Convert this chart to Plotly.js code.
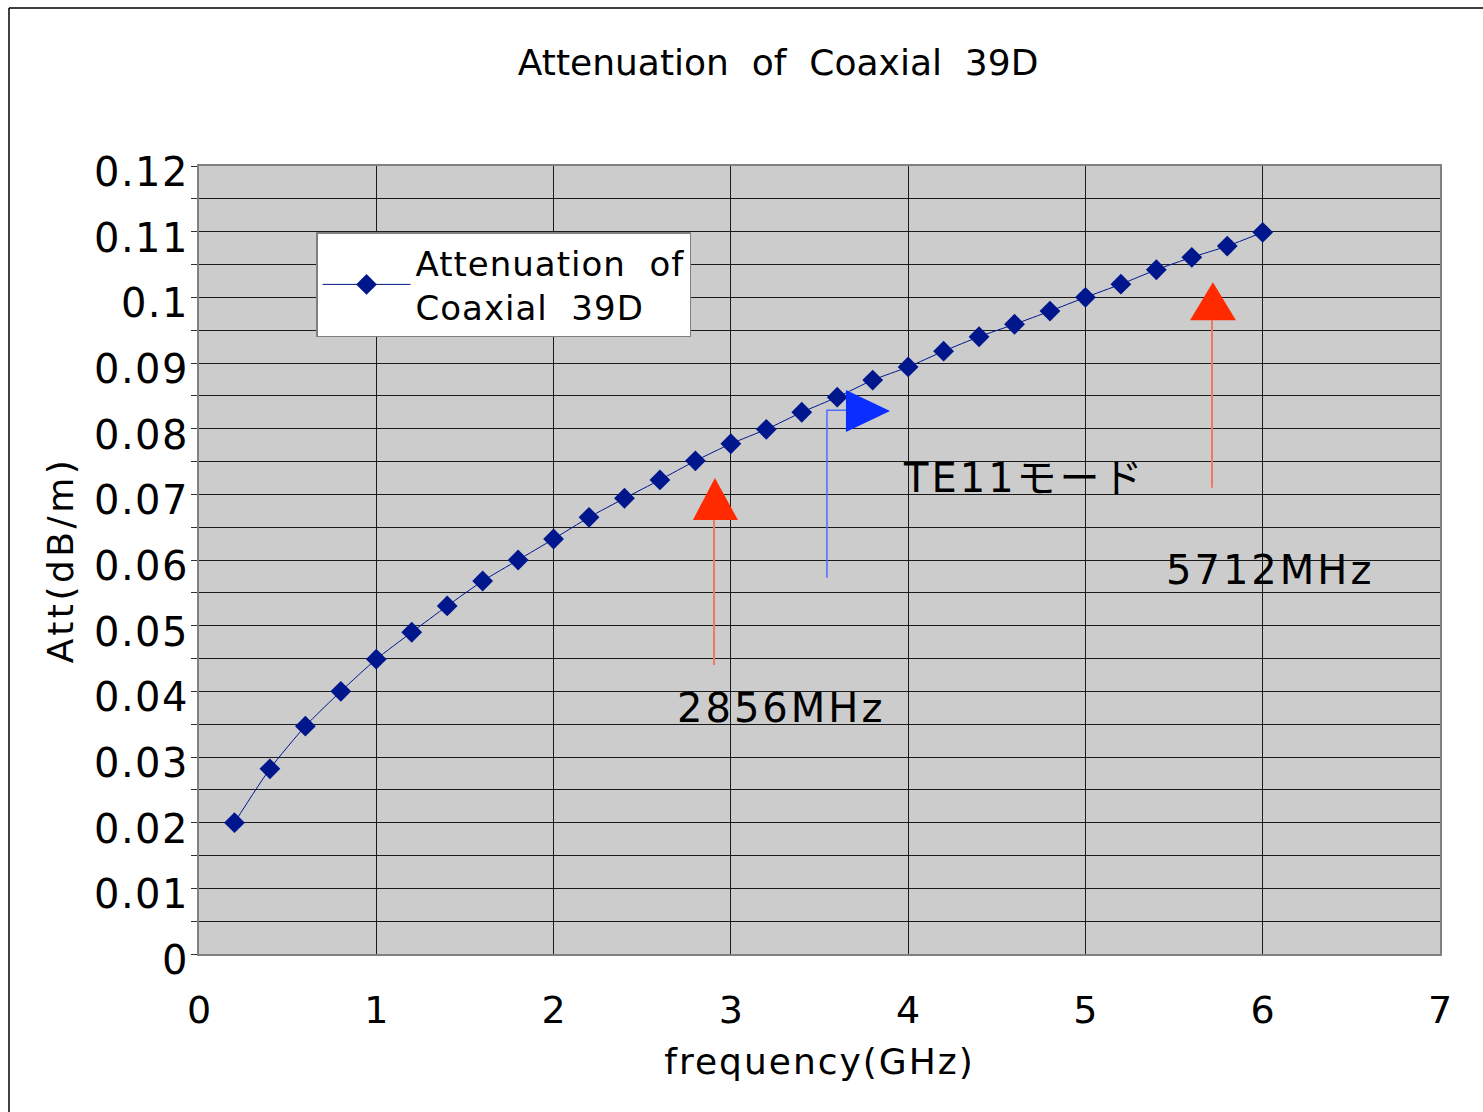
<!DOCTYPE html>
<html>
<head>
<meta charset="utf-8">
<script src="https://cdn.plot.ly/plotly-3.0.1.min.js"></script>
<style>
html,body{margin:0;padding:0;background:#fff}
#chart{width:1483px;height:1112px}
.annotation-text{letter-spacing:3px}
.ytick text{letter-spacing:1.5px}
.g-xtitle text{letter-spacing:2px}
.g-ytitle text{letter-spacing:3.5px}
.legendtext{letter-spacing:1px}
</style>
</head>
<body>
<div id="chart"></div>
<script>
// Data
var freqGHz = [0.2,0.4,0.6,0.8,1.0,1.2,1.4,1.6,1.8,2.0,2.2,2.4,2.6,2.8,3.0,3.2,3.4,3.6,3.8,4.0,4.2,4.4,4.6,4.8,5.0,5.2,5.4,5.6,5.8,6.0];
var attDBm = [0.0200,0.0282,0.0347,0.0400,0.0449,0.0490,0.0530,0.0568,0.0600,0.0632,0.0665,0.0694,0.0722,0.0751,0.0777,0.0799,0.0825,0.0848,0.0874,0.0894,0.0918,0.0940,0.0959,0.0979,0.1000,0.1020,0.1042,0.1061,0.1078,0.1099];
var seriesName = "Attenuation  of<br>Coaxial  39D";
var chartTitle = "Attenuation  of  Coaxial  39D";
var xTitle = "frequency(GHz)";
var yTitle = "Att(dB/m)";
var noteTE = "TE11モード";
var note2856 = "2856MHz";
var note5712 = "5712MHz";

var FONT = "DejaVu Sans, Noto Sans CJK JP, sans-serif";
var navy = "#00168c";

var trace = {
  x: freqGHz, y: attDBm, name: seriesName,
  type: "scatter", mode: "lines+markers",
  line: {color: navy, width: 1, shape: "spline", smoothing: 0.6},
  marker: {symbol: "diamond", size: 16, color: navy, line: {width: 0}}
};

var red = "#ff2a00", redLine = "#f07862", blue = "#0a2eff", blueLine = "#4d6cff";

var layout = {
  width: 1483, height: 1112,
  margin: {l: 199, r: 43, t: 166, b: 158},
  paper_bgcolor: "#ffffff",
  plot_bgcolor: "#cccccc",
  font: {family: FONT, color: "#000", size: 36},
  title: {text: chartTitle, font: {size: 36, family: FONT, color: "#000"},
          xref: "container", yref: "container", x: 0.5247, y: 0.944, xanchor: "center", yanchor: "middle"},
  showlegend: true,
  legend: {x: 0.0943, y: 0.916, xanchor: "left", yanchor: "top",
           bgcolor: "#ffffff", bordercolor: "#808080", borderwidth: 1.5,
           font: {size: 34, family: FONT, color: "#000"}, itemwidth: 88,
           tracegroupgap: 0},
  xaxis: {range: [0, 7], dtick: 1, tick0: 0, showgrid: true, gridcolor: "#1a1a1a", gridwidth: 1,
          zeroline: false, showline: true, linecolor: "#808080", linewidth: 2, mirror: true,
          ticks: "", ticklabelstandoff: 21, tickfont: {size: 38, family: FONT},
          title: {text: xTitle, font: {size: 36, family: FONT}, standoff: 18}},
  yaxis: {range: [0, 0.12], dtick: 0.01, tick0: 0, showgrid: true, gridcolor: "#1a1a1a", gridwidth: 1,
          zeroline: false, showline: true, linecolor: "#808080", linewidth: 2, mirror: true,
          ticks: "outside", ticklen: 6, tickcolor: "#333", ticklabelstandoff: -6, ticklabelshift: 6,
          tickfont: {size: 40, family: FONT},
          minor: {dtick: 0.005, showgrid: true, gridcolor: "#1a1a1a", gridwidth: 1, ticks: "outside", ticklen: 6, tickcolor: "#333"},
          title: {text: yTitle, font: {size: 36, family: FONT}, standoff: 9}},
  shapes: [
    // outer frame (left and top edges)
    {type: "line", xref: "paper", yref: "paper", x0: -0.1531, x1: -0.1531, y0: -0.25, y1: 1.2005, line: {color: "#000", width: 1.5}},
    {type: "line", xref: "paper", yref: "paper", x0: -0.1531, x1: 1.1, y0: 1.2005, y1: 1.2005, line: {color: "#000", width: 1.5}},
    // red arrow at 2856 MHz
    {type: "line", xref: "x", yref: "y", x0: 2.905, x1: 2.905, y0: 0.0440, y1: 0.0661, line: {color: redLine, width: 2}},
    {type: "path", xref: "x", yref: "y", path: "M 2.910 0.0725 L 2.786 0.0661 L 3.040 0.0661 Z", fillcolor: red, line: {width: 0}},
    // red arrow at 5712 MHz
    {type: "line", xref: "x", yref: "y", x0: 5.714, x1: 5.714, y0: 0.0710, y1: 0.0965, line: {color: redLine, width: 2}},
    {type: "path", xref: "x", yref: "y", path: "M 5.719 0.1023 L 5.590 0.0965 L 5.849 0.0965 Z", fillcolor: red, line: {width: 0}},
    // blue TE11 arrow
    {type: "path", xref: "x", yref: "y", path: "M 3.542 0.0573 L 3.542 0.0828 L 3.649 0.0828", line: {color: blueLine, width: 1.5}},
    {type: "path", xref: "x", yref: "y", path: "M 3.649 0.0859 L 3.649 0.0795 L 3.898 0.0827 Z", fillcolor: blue, line: {width: 0}}
  ],
  annotations: [
    {text: noteTE, x: 4.659, y: 0.0725, xref: "x", yref: "y", showarrow: false, font: {size: 40, family: FONT, color: "#000"}},
    {text: note2856, x: 3.283, y: 0.0375, xref: "x", yref: "y", showarrow: false, font: {size: 40, family: FONT, color: "#000"}},
    {text: note5712, x: 6.041, y: 0.0585, xref: "x", yref: "y", showarrow: false, font: {size: 40, family: FONT, color: "#000"}}
  ]
};

Plotly.newPlot("chart", [trace], layout, {staticPlot: true, displayModeBar: false});
</script>
</body>
</html>
